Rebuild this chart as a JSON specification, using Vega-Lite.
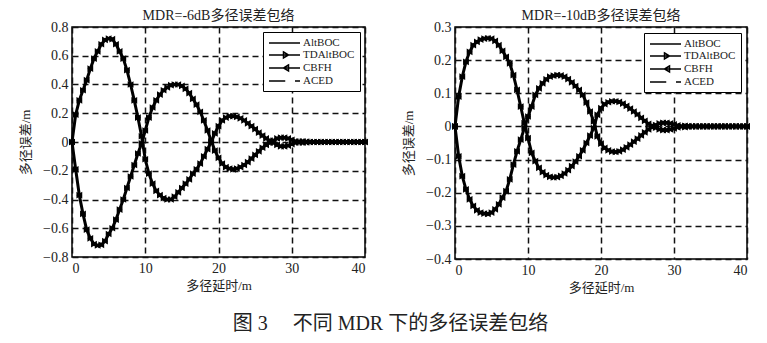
{
  "$schema": "https://vega.github.io/schema/vega-lite/v6.json",
  "background": "white",
  "padding": {"left": 18, "top": 8, "right": 5, "bottom": 5},
  "config": {
    "font": "Liberation Serif, Noto Sans CJK SC",
    "view": {"stroke": "black", "strokeWidth": 1.5},
    "axis": {
      "labelFont": "Liberation Serif, Noto Sans CJK SC", "labelFontSize": 14, "labelColor": "#222",
      "titleFont": "Liberation Serif, Noto Sans CJK SC", "titleFontSize": 13, "titleFontWeight": "normal", "titleColor": "#222",
      "grid": true, "gridColor": "#111", "gridDash": [6, 4], "gridWidth": 1.5, "gridOpacity": 1,
      "domain": false, "ticks": false, "labelPadding": 4
    },
    "title": {"font": "Liberation Serif, Noto Sans CJK SC", "fontSize": 14, "fontWeight": "normal", "color": "#222", "offset": -3}
  },
  "title": {"text": "图 3　 不同 MDR 下的多径误差包络", "orient": "bottom", "anchor": "middle", "fontSize": 20, "offset": 19, "font": "Liberation Serif, Noto Sans CJK SC", "color": "#222"},
  "datasets": {
    "m6": [
      {"x":0,"a":0,"b":0},{"x":0.5,"a":0.19,"b":-0.19},{"x":1,"a":0.29,"b":-0.37},{"x":1.5,"a":0.36,"b":-0.5},
      {"x":2,"a":0.43,"b":-0.61},{"x":2.5,"a":0.51,"b":-0.67},{"x":3,"a":0.58,"b":-0.71},{"x":3.5,"a":0.63,"b":-0.72},
      {"x":4,"a":0.68,"b":-0.715},{"x":4.5,"a":0.71,"b":-0.69},{"x":5,"a":0.72,"b":-0.64},{"x":5.5,"a":0.715,"b":-0.6},
      {"x":6,"a":0.68,"b":-0.54},{"x":6.5,"a":0.63,"b":-0.47},{"x":7,"a":0.58,"b":-0.4},{"x":7.5,"a":0.5,"b":-0.32},
      {"x":8,"a":0.4,"b":-0.24},{"x":8.5,"a":0.29,"b":-0.16},{"x":9,"a":0.17,"b":-0.08},{"x":9.5,"a":0.04,"b":-0.01},
      {"x":10,"a":-0.12,"b":0.08},{"x":10.5,"a":-0.22,"b":0.17},{"x":11,"a":-0.29,"b":0.24},{"x":11.5,"a":-0.34,"b":0.29},
      {"x":12,"a":-0.37,"b":0.33},{"x":12.5,"a":-0.39,"b":0.36},{"x":13,"a":-0.4,"b":0.38},{"x":13.5,"a":-0.4,"b":0.395},
      {"x":14,"a":-0.38,"b":0.4},{"x":14.5,"a":-0.35,"b":0.4},{"x":15,"a":-0.32,"b":0.39},{"x":15.5,"a":-0.29,"b":0.37},
      {"x":16,"a":-0.26,"b":0.34},{"x":16.5,"a":-0.22,"b":0.3},{"x":17,"a":-0.19,"b":0.26},{"x":17.5,"a":-0.15,"b":0.21},
      {"x":18,"a":-0.1,"b":0.15},{"x":18.5,"a":-0.05,"b":0.08},{"x":19,"a":0,"b":0.01},{"x":19.5,"a":0.06,"b":-0.06},
      {"x":20,"a":0.11,"b":-0.11},{"x":20.5,"a":0.15,"b":-0.15},{"x":21,"a":0.17,"b":-0.175},{"x":21.5,"a":0.18,"b":-0.185},
      {"x":22,"a":0.18,"b":-0.19},{"x":22.5,"a":0.175,"b":-0.185},{"x":23,"a":0.165,"b":-0.175},{"x":23.5,"a":0.15,"b":-0.16},
      {"x":24,"a":0.13,"b":-0.14},{"x":24.5,"a":0.11,"b":-0.115},{"x":25,"a":0.09,"b":-0.09},{"x":25.5,"a":0.065,"b":-0.065},
      {"x":26,"a":0.045,"b":-0.04},{"x":26.5,"a":0.025,"b":-0.02},{"x":27,"a":0.01,"b":-0.005},{"x":27.5,"a":-0.005,"b":0.01},
      {"x":28,"a":-0.02,"b":0.025},{"x":28.5,"a":-0.03,"b":0.03},{"x":29,"a":-0.03,"b":0.03},{"x":29.5,"a":-0.025,"b":0.025},
      {"x":30,"a":-0.015,"b":0.015},{"x":30.5,"a":-0.005,"b":0.005},{"x":31,"a":0.003,"b":-0.003},{"x":31.5,"a":0.005,"b":-0.005},
      {"x":32,"a":0.003,"b":-0.003},{"x":32.5,"a":0,"b":0},{"x":33,"a":0,"b":0},{"x":33.5,"a":0,"b":0},
      {"x":34,"a":0,"b":0},{"x":34.5,"a":0,"b":0},{"x":35,"a":0,"b":0},{"x":35.5,"a":0,"b":0},
      {"x":36,"a":0,"b":0},{"x":36.5,"a":0,"b":0},{"x":37,"a":0,"b":0},{"x":37.5,"a":0,"b":0},
      {"x":38,"a":0,"b":0},{"x":38.5,"a":0,"b":0},{"x":39,"a":0,"b":0},{"x":39.5,"a":0,"b":0},{"x":40,"a":0,"b":0}
    ],
    "m10": [
      {"x":0,"a":0,"b":0},{"x":0.5,"a":0.09,"b":-0.09},{"x":1,"a":0.15,"b":-0.15},{"x":1.5,"a":0.195,"b":-0.19},
      {"x":2,"a":0.225,"b":-0.22},{"x":2.5,"a":0.245,"b":-0.24},{"x":3,"a":0.255,"b":-0.253},{"x":3.5,"a":0.262,"b":-0.26},
      {"x":4,"a":0.265,"b":-0.263},{"x":4.5,"a":0.266,"b":-0.264},{"x":5,"a":0.265,"b":-0.26},{"x":5.5,"a":0.258,"b":-0.25},
      {"x":6,"a":0.245,"b":-0.235},{"x":6.5,"a":0.228,"b":-0.215},{"x":7,"a":0.21,"b":-0.195},{"x":7.5,"a":0.19,"b":-0.16},
      {"x":8,"a":0.155,"b":-0.115},{"x":8.5,"a":0.11,"b":-0.075},{"x":9,"a":0.06,"b":-0.04},{"x":9.5,"a":0.01,"b":-0.005},
      {"x":10,"a":-0.035,"b":0.03},{"x":10.5,"a":-0.08,"b":0.06},{"x":11,"a":-0.105,"b":0.095},{"x":11.5,"a":-0.125,"b":0.115},
      {"x":12,"a":-0.138,"b":0.13},{"x":12.5,"a":-0.147,"b":0.142},{"x":13,"a":-0.152,"b":0.15},{"x":13.5,"a":-0.154,"b":0.153},
      {"x":14,"a":-0.153,"b":0.155},{"x":14.5,"a":-0.149,"b":0.154},{"x":15,"a":-0.142,"b":0.15},{"x":15.5,"a":-0.132,"b":0.143},
      {"x":16,"a":-0.12,"b":0.133},{"x":16.5,"a":-0.106,"b":0.122},{"x":17,"a":-0.09,"b":0.11},{"x":17.5,"a":-0.072,"b":0.095},
      {"x":18,"a":-0.05,"b":0.072},{"x":18.5,"a":-0.028,"b":0.045},{"x":19,"a":-0.005,"b":0.015},{"x":19.5,"a":0.035,"b":-0.03},
      {"x":20,"a":0.055,"b":-0.052},{"x":20.5,"a":0.067,"b":-0.065},{"x":21,"a":0.073,"b":-0.072},{"x":21.5,"a":0.076,"b":-0.076},
      {"x":22,"a":0.076,"b":-0.077},{"x":22.5,"a":0.074,"b":-0.075},{"x":23,"a":0.069,"b":-0.07},{"x":23.5,"a":0.062,"b":-0.063},
      {"x":24,"a":0.054,"b":-0.055},{"x":24.5,"a":0.045,"b":-0.046},{"x":25,"a":0.036,"b":-0.037},{"x":25.5,"a":0.026,"b":-0.027},
      {"x":26,"a":0.017,"b":-0.018},{"x":26.5,"a":0.008,"b":-0.009},{"x":27,"a":0.002,"b":-0.002},{"x":27.5,"a":-0.004,"b":0.004},
      {"x":28,"a":-0.009,"b":0.009},{"x":28.5,"a":-0.011,"b":0.011},{"x":29,"a":-0.011,"b":0.011},{"x":29.5,"a":-0.009,"b":0.009},
      {"x":30,"a":-0.006,"b":0.006},{"x":30.5,"a":-0.003,"b":0.003},{"x":31,"a":0,"b":0},{"x":31.5,"a":0.002,"b":-0.002},
      {"x":32,"a":0.001,"b":-0.001},{"x":32.5,"a":0,"b":0},{"x":33,"a":0,"b":0},{"x":33.5,"a":0,"b":0},
      {"x":34,"a":0,"b":0},{"x":34.5,"a":0,"b":0},{"x":35,"a":0,"b":0},{"x":35.5,"a":0,"b":0},
      {"x":36,"a":0,"b":0},{"x":36.5,"a":0,"b":0},{"x":37,"a":0,"b":0},{"x":37.5,"a":0,"b":0},
      {"x":38,"a":0,"b":0},{"x":38.5,"a":0,"b":0},{"x":39,"a":0,"b":0},{"x":39.5,"a":0,"b":0},{"x":40,"a":0,"b":0}
    ]
  },
  "spacing": 90,
  "bounds": "flush",
  "resolve": {"scale": {"x": "independent", "y": "independent", "shape": "independent"}, "legend": {"shape": "independent"}},
  "hconcat": [
    {
      "width": 293, "height": 230,
      "title": "MDR=-6dB多径误差包络",
      "data": {"name": "m6"},
      "transform": [{"fold": ["a", "b"], "as": ["branch", "y"]}],
      "encoding": {
        "x": {"field": "x", "type": "quantitative", "scale": {"domain": [0, 40], "nice": false}, "axis": {"values": [0, 10, 20, 30, 40], "title": "多径延时/m", "titlePadding": 4}},
        "y": {"field": "y", "type": "quantitative", "scale": {"domain": [-0.8, 0.8], "nice": false}, "axis": {"values": [-0.8, -0.6, -0.4, -0.2, 0, 0.2, 0.4, 0.6, 0.8], "title": "多径误差/m", "titlePadding": 10, "labelExpr": "datum.value == 0 ? '0' : format(datum.value, '.1f')"}}
      },
      "layer": [
        {"mark": {"type": "line", "color": "black", "strokeWidth": 3}, "encoding": {"detail": {"field": "branch"}}},
        {"mark": {"type": "point", "shape": "triangle-right", "filled": true, "color": "black", "size": 45, "opacity": 1}},
        {"mark": {"type": "point", "shape": "triangle-left", "filled": true, "color": "black", "size": 45, "opacity": 1}},
        {
          "mark": {"type": "point", "filled": false, "color": "black", "opacity": 0},
          "encoding": {
            "shape": {
              "datum": "AltBOC",
              "scale": {"domain": ["AltBOC", "TDAltBOC", "CBFH", "ACED"], "range": ["M-1,0H5.2", "M-1,0H5.2M1.9,-0.6L2.9,0L1.9,0.6Z", "M-1,0H5.2M2.9,-0.6L1.9,0L2.9,0.6Z", "M-1,0H2.25M4.2,0H5.2"]},
              "legend": {
                "title": null, "orient": "top-right", "offset": 5, "padding": 5, "strokeColor": "black", "fillColor": "white",
                "symbolSize": 100, "symbolOpacity": 1, "labelFontSize": 11, "labelFont": "Liberation Serif", "labelColor": "#222",
                "rowPadding": 1, "labelOffset": 23, "cornerRadius": 0,
                "encode": {"symbols": {"update": {"fill": {"value": "black"}, "stroke": {"value": "black"}, "strokeWidth": {"value": 1.5}, "opacity": {"value": 1}}}}
              }
            }
          }
        }
      ]
    },
    {
      "width": 292, "height": 232,
      "title": "MDR=-10dB多径误差包络",
      "data": {"name": "m10"},
      "transform": [{"fold": ["a", "b"], "as": ["branch", "y"]}],
      "encoding": {
        "x": {"field": "x", "type": "quantitative", "scale": {"domain": [0, 40], "nice": false}, "axis": {"values": [0, 10, 20, 30, 40], "title": "多径延时/m", "titlePadding": 4}},
        "y": {"field": "y", "type": "quantitative", "scale": {"domain": [-0.4, 0.3], "nice": false}, "axis": {"values": [-0.4, -0.3, -0.2, -0.1, 0, 0.1, 0.2, 0.3], "title": "多径误差/m", "titlePadding": 10, "labelExpr": "datum.value == 0 ? '0' : format(datum.value, '.1f')"}}
      },
      "layer": [
        {"mark": {"type": "line", "color": "black", "strokeWidth": 3}, "encoding": {"detail": {"field": "branch"}}},
        {"mark": {"type": "point", "shape": "triangle-right", "filled": true, "color": "black", "size": 45, "opacity": 1}},
        {"mark": {"type": "point", "shape": "triangle-left", "filled": true, "color": "black", "size": 45, "opacity": 1}},
        {
          "mark": {"type": "point", "filled": false, "color": "black", "opacity": 0},
          "encoding": {
            "shape": {
              "datum": "AltBOC",
              "scale": {"domain": ["AltBOC", "TDAltBOC", "CBFH", "ACED"], "range": ["M-1,0H5.2", "M-1,0H5.2M1.9,-0.6L2.9,0L1.9,0.6Z", "M-1,0H5.2M2.9,-0.6L1.9,0L2.9,0.6Z", "M-1,0H2.25M4.2,0H5.2"]},
              "legend": {
                "title": null, "orient": "top-right", "offset": 6, "padding": 5, "strokeColor": "black", "fillColor": "white",
                "symbolSize": 100, "symbolOpacity": 1, "labelFontSize": 11, "labelFont": "Liberation Serif", "labelColor": "#222",
                "rowPadding": 1, "labelOffset": 23, "cornerRadius": 0,
                "encode": {"symbols": {"update": {"fill": {"value": "black"}, "stroke": {"value": "black"}, "strokeWidth": {"value": 1.5}, "opacity": {"value": 1}}}}
              }
            }
          }
        }
      ]
    }
  ]
}
